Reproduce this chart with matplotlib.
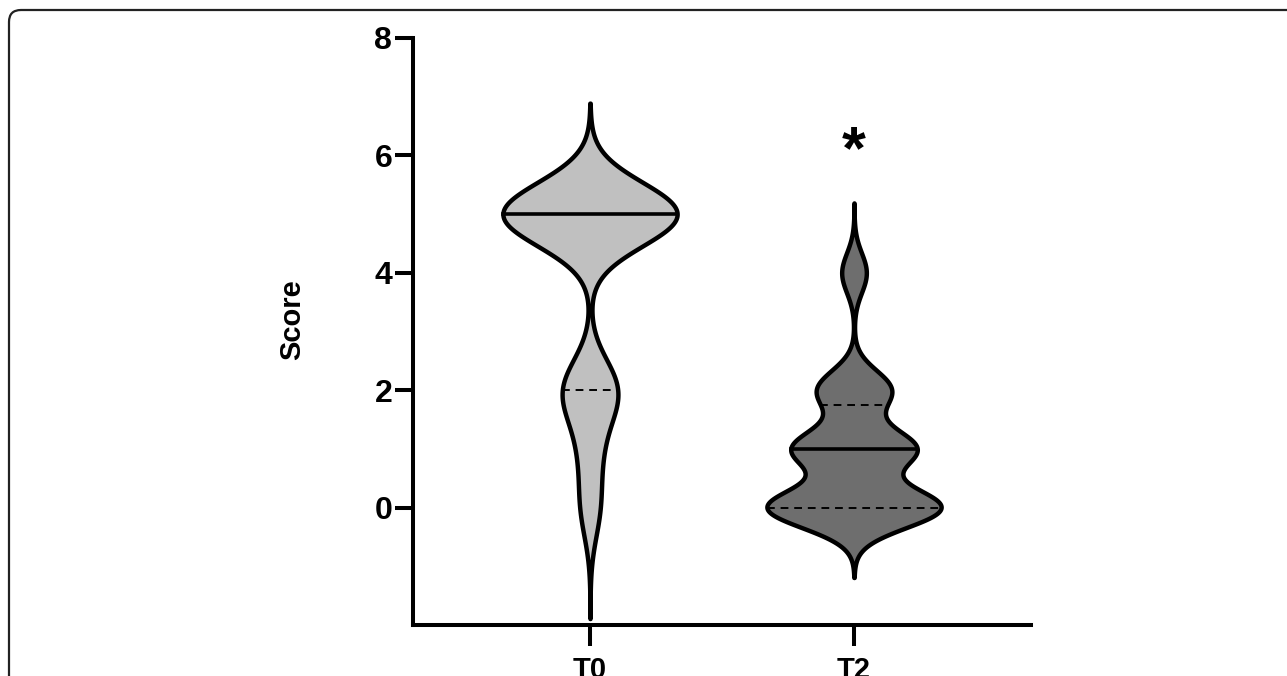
import matplotlib.pyplot as plt
import numpy as np
from matplotlib.patches import FancyBboxPatch
from matplotlib.transforms import IdentityTransform

groups = ["T0", "T2"]
score_levels = [0, 1, 2, 3, 4, 5, 6]
t0_counts = [1, 1, 3, 0, 0, 10, 0]
t2_counts = [7, 5, 3, 0, 1, 0, 0]
bandwidths = [0.54, 0.34]
fills = ["#c0c0c0", "#6e6e6e"]
yticks = [0, 2, 4, 6, 8]

plt.rcParams["font.family"] = ["Liberation Sans", "DejaVu Sans"]
plt.rcParams["font.weight"] = "bold"

fig = plt.figure(figsize=(12.87, 6.76), dpi=100)
ax = fig.add_axes([0.321, 0.0754, 0.480, 0.8684])

for i, (counts, bw, color) in enumerate(zip([t0_counts, t2_counts], bandwidths, fills)):
    pos = i + 1
    data = np.repeat(score_levels, counts).astype(float)
    grid = np.linspace(data.min() - 3.5 * bw, data.max() + 3.5 * bw, 600)
    dens = np.exp(-0.5 * ((grid[:, None] - data[None, :]) / bw) ** 2).sum(axis=1)
    half = 0.33 * dens / dens.max()
    ax.fill_betweenx(grid, pos - half, pos + half, facecolor=color,
                     edgecolor="black", linewidth=3.2, zorder=2)
    q1, med, q3 = np.percentile(data, [25, 50, 75], method="weibull")
    for q, ls, lw in [(q1, (0, (4, 3)), 1.4), (q3, (0, (4, 3)), 1.4), (med, "-", 2.6)]:
        w = np.interp(q, grid, half)
        ax.plot([pos - w, pos + w], [q, q], color="black", linestyle=ls,
                linewidth=lw, zorder=3)

ax.text(2, 6.05, "*", ha="center", va="center", fontsize=44, fontweight="bold")

ax.set_xlim(0.33, 2.67)
ax.set_ylim(-2, 8)
ax.set_xticks([1, 2])
ax.set_xticklabels(groups)
ax.set_yticks(yticks)
ax.set_ylabel("Score", fontsize=21, fontweight="bold")
ax.yaxis.set_label_coords(-0.173, 0.521)
for side in ["top", "right"]:
    ax.spines[side].set_visible(False)
for side in ["left", "bottom"]:
    ax.spines[side].set_linewidth(2.9)
ax.tick_params(axis="y", length=13, width=2.9, labelsize=23, pad=2)
ax.tick_params(axis="x", length=15, width=2.9, labelsize=21, pad=7)

border = FancyBboxPatch((9, -30), 1320, 696, boxstyle="round,pad=0,rounding_size=12",
                        transform=IdentityTransform(), facecolor="none",
                        edgecolor="#222222", linewidth=1.6, clip_on=False)
fig.patches.append(border)

fig.savefig("out.png", dpi=100)
